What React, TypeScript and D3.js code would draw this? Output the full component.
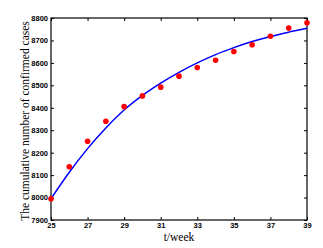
import React, { useEffect, useRef } from 'react';
import * as d3 from 'd3';

// observed weekly data (red dots)
const weeks = [25, 26, 27, 28, 29, 30, 31, 32, 33, 34, 35, 36, 37, 38, 39];
const cases = [7995, 8137, 8251, 8340, 8405, 8453, 8492, 8541, 8579, 8612, 8651, 8681, 8719, 8755, 8779];
// fitted curve (blue line)
const fitted = [7995, 8113, 8218, 8310, 8390, 8455, 8510, 8558, 8600, 8637, 8668, 8695, 8718, 8737, 8754];
const xTicks = [25, 27, 29, 31, 33, 35, 37, 39];
const yTicks = [7900, 8000, 8100, 8200, 8300, 8400, 8500, 8600, 8700, 8800];

export default function App() {
  const ref = useRef<SVGSVGElement>(null);

  useEffect(() => {
    const svg = d3.select(ref.current);
    svg.selectAll('*').remove();

    const left = 51, right = 307, top = 18, bottom = 220;
    const x = d3.scaleLinear().domain([25, 39]).range([left, right]);
    const y = d3.scaleLinear().domain([7900, 8800]).range([bottom, top]);

    const tickFont = 'Arial, "Liberation Sans", sans-serif';

    // frame
    svg.append('rect')
      .attr('x', left).attr('y', top)
      .attr('width', right - left).attr('height', bottom - top)
      .attr('fill', 'none').attr('stroke', '#000').attr('stroke-width', 1.2);

    const xAxis = d3.axisBottom(x).tickValues(xTicks).tickSize(-3).tickPadding(3).tickFormat(d3.format('d'));
    const yAxis = d3.axisLeft(y).tickValues(yTicks).tickSize(-3).tickPadding(3).tickFormat(d3.format('d'));

    const gx = svg.append('g').attr('transform', `translate(0,${bottom})`).call(xAxis);
    const gy = svg.append('g').attr('transform', `translate(${left},0)`).call(yAxis);
    [gx, gy].forEach(g => {
      g.select('.domain').remove();
      g.selectAll('line').attr('stroke', '#000');
      g.selectAll('text')
        .attr('font-family', tickFont)
        .attr('font-weight', 'bold')
        .attr('font-size', 7.5)
        .attr('fill', '#000');
    });

    // mirrored ticks on top and right
    svg.append('g').attr('transform', `translate(0,${top})`)
      .call(d3.axisTop(x).tickValues(xTicks).tickSize(-3).tickFormat(() => ''))
      .call(g => g.select('.domain').remove());
    svg.append('g').attr('transform', `translate(${right},0)`)
      .call(d3.axisRight(y).tickValues(yTicks).tickSize(-3).tickFormat(() => ''))
      .call(g => g.select('.domain').remove());

    // fitted curve
    const line = d3.line<number>()
      .x((d, i) => x(weeks[i]))
      .y(d => y(d))
      .curve(d3.curveMonotoneX);
    svg.append('path')
      .datum(fitted)
      .attr('d', line)
      .attr('fill', 'none')
      .attr('stroke', '#0000ff')
      .attr('stroke-width', 1.5);

    // observed points
    svg.append('g').selectAll('circle')
      .data(cases)
      .enter()
      .append('circle')
      .attr('cx', (d, i) => x(weeks[i]))
      .attr('cy', d => y(d))
      .attr('r', 2.8)
      .attr('fill', '#ff0000');

    // labels
    svg.append('text')
      .attr('x', (left + right) / 2).attr('y', 241)
      .attr('text-anchor', 'middle')
      .attr('font-family', '"Liberation Serif", "Times New Roman", serif')
      .attr('font-size', 11.5)
      .text('t/week');

    svg.append('text')
      .attr('transform', `translate(29,${(top + bottom) / 2 + 2}) rotate(-90)`)
      .attr('text-anchor', 'middle')
      .attr('font-family', '"Liberation Serif", "Times New Roman", serif')
      .attr('font-size', 11.5)
      .text('The cumulative number of confirmed cases');
  }, []);

  return (
    <svg ref={ref} width={323} height={248}
      style={{ position: 'absolute', left: 0, top: 0, background: '#fff' }} />
  );
}
